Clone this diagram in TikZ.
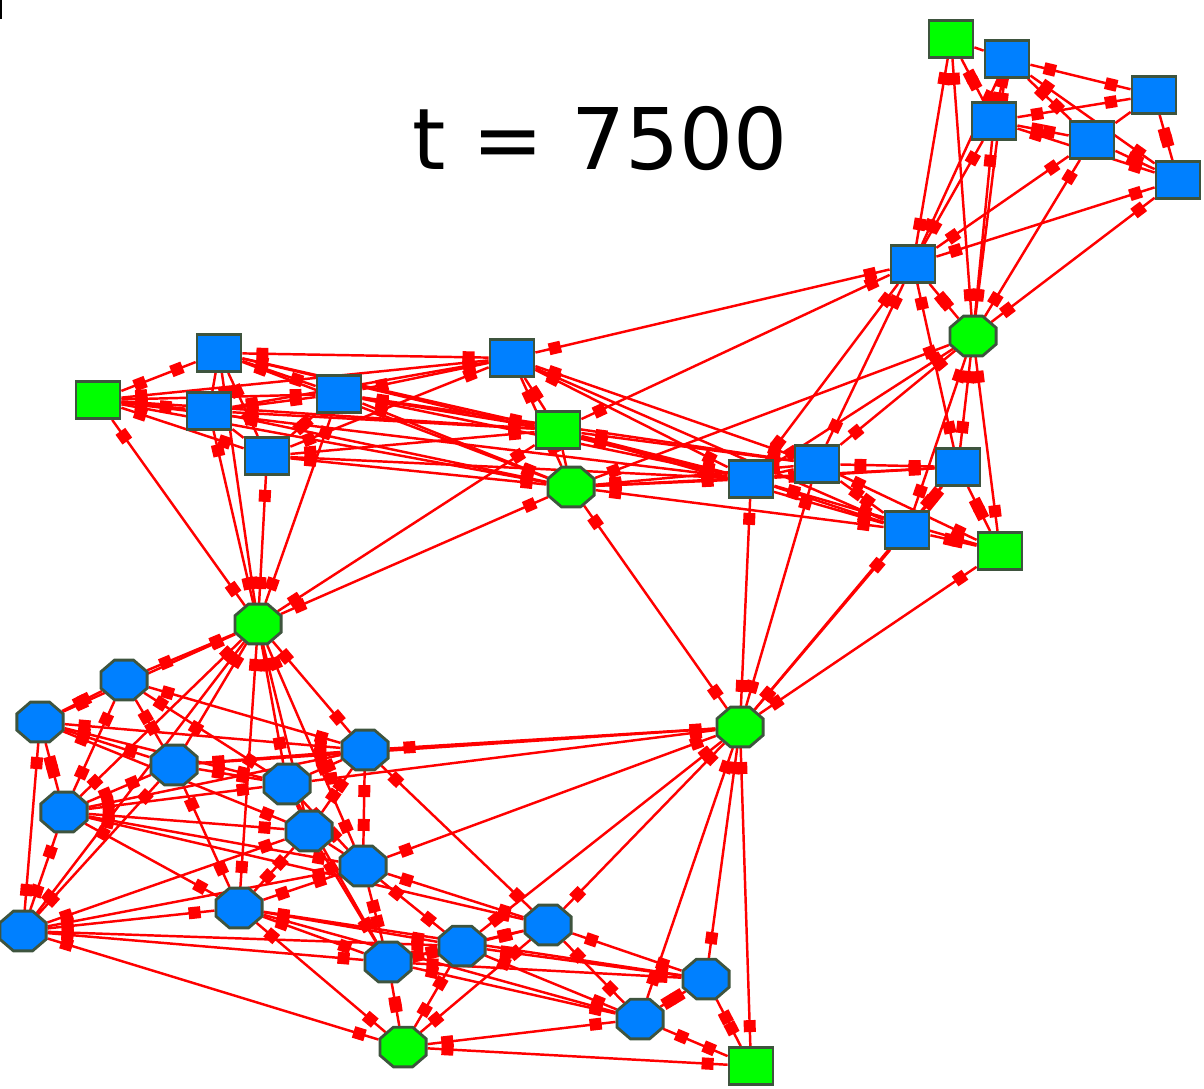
\documentclass[tikz,border=0pt]{standalone}
\usepackage{fontspec}
\setmainfont{DejaVu Sans}
\usetikzlibrary{shapes.geometric,decorations.markings}
\definecolor{nodeblue}{RGB}{0,128,255}
\definecolor{nodegreen}{RGB}{0,255,0}
\definecolor{nodeedge}{RGB}{62,84,62}
\definecolor{linkred}{RGB}{255,0,0}
\pgfdeclarelayer{bg}
\pgfsetlayers{bg,main}
\begin{document}
\begin{tikzpicture}[
        sq/.style={rectangle, draw=nodeedge, line width=0.8pt, minimum width=0.44cm, minimum height=0.37cm, inner sep=0pt},
        oct/.style={regular polygon, regular polygon sides=8, draw=nodeedge, line width=0.8pt, minimum size=0.5cm, inner sep=0pt, yscale=0.86, transform shape},
        blob/.style={fill=linkred},
        link/.style={draw=linkred, line width=0.7pt, postaction=decorate,
            decoration={markings,
                mark=at position 0.2cm with {\fill[blob] (-1.7pt,-1.7pt) rectangle (1.7pt,1.7pt);},
                mark=at position -0.2cm with {\fill[blob] (-1.7pt,-1.7pt) rectangle (1.7pt,1.7pt);}}},
        every edge/.style={link}
    ]
        \useasboundingbox (0,0) rectangle (12.04,-10.88);
        \fill[black] (0,0) rectangle (0.02,-0.19);

        % Title
        \node[anchor=base, font=\fontsize{24.2}{29}\selectfont] (title) at (6.00,-1.69) {t = 7500};

        % Hubs
        \node[oct, fill=nodegreen] (hA) at (9.73,-3.36) {};
        \node[oct, fill=nodegreen] (hB) at (5.71,-4.87) {};
        \node[oct, fill=nodegreen] (hC) at (2.58,-6.24) {};
        \node[oct, fill=nodegreen] (hD) at (7.40,-7.27) {};
        \node[oct, fill=nodegreen] (hE) at (4.03,-10.47) {};
        \node[sq, fill=nodegreen] (gA) at (9.51,-0.39) {};
        \node[sq, fill=nodegreen] (gB) at (0.98,-4.00) {};
        \node[sq, fill=nodegreen] (gC) at (5.58,-4.30) {};
        \node[sq, fill=nodegreen] (gD) at (10.00,-5.51) {};
        \node[sq, fill=nodegreen] (gE) at (7.51,-10.66) {};

        % Square groups
        \node[sq, fill=nodeblue] (t1) at (10.07,-0.59) {};
        \node[sq, fill=nodeblue] (t2) at (11.54,-0.95) {};
        \node[sq, fill=nodeblue] (t3) at (9.94,-1.21) {};
        \node[sq, fill=nodeblue] (t4) at (10.92,-1.40) {};
        \node[sq, fill=nodeblue] (t5) at (11.78,-1.80) {};
        \node[sq, fill=nodeblue] (t6) at (9.13,-2.64) {};
        \node[sq, fill=nodeblue] (m1) at (2.19,-3.53) {};
        \node[sq, fill=nodeblue] (m2) at (5.12,-3.58) {};
        \node[sq, fill=nodeblue] (m3) at (2.09,-4.11) {};
        \node[sq, fill=nodeblue] (m4) at (3.39,-3.94) {};
        \node[sq, fill=nodeblue] (m5) at (2.67,-4.56) {};
        \node[sq, fill=nodeblue] (m6) at (7.51,-4.79) {};
        \node[sq, fill=nodeblue] (m7) at (8.17,-4.64) {};
        \node[sq, fill=nodeblue] (m8) at (9.58,-4.67) {};
        \node[sq, fill=nodeblue] (m9) at (9.07,-5.30) {};

        % Octagon group
        \node[oct, fill=nodeblue] (c1) at (1.24,-6.80) {};
        \node[oct, fill=nodeblue] (c2) at (0.40,-7.22) {};
        \node[oct, fill=nodeblue] (c3) at (1.74,-7.65) {};
        \node[oct, fill=nodeblue] (c4) at (3.65,-7.50) {};
        \node[oct, fill=nodeblue] (c5) at (2.87,-7.84) {};
        \node[oct, fill=nodeblue] (c6) at (0.64,-8.12) {};
        \node[oct, fill=nodeblue] (c7) at (3.09,-8.31) {};
        \node[oct, fill=nodeblue] (c8) at (3.63,-8.66) {};
        \node[oct, fill=nodeblue] (c9) at (0.23,-9.31) {};
        \node[oct, fill=nodeblue] (c10) at (2.39,-9.08) {};
        \node[oct, fill=nodeblue] (c11) at (5.48,-9.25) {};
        \node[oct, fill=nodeblue] (c12) at (4.62,-9.46) {};
        \node[oct, fill=nodeblue] (c13) at (3.88,-9.62) {};
        \node[oct, fill=nodeblue] (c14) at (7.06,-9.79) {};
        \node[oct, fill=nodeblue] (c15) at (6.40,-10.19) {};

        \begin{pgfonlayer}{bg}
        % Top right links
        \path (gA) edge (t1) edge (t3) edge (t6) edge (hA);
        \path (t1) edge (t2) edge (t3) edge (t4) edge (t5) edge (t6) edge (hA);
        \path (t2) edge (t3) edge (t4) edge (t5);
        \path (t3) edge (t4) edge (t5) edge (t6) edge (hA);
        \path (t4) edge (t5) edge (t6) edge (hA);
        \path (t5) edge (t6) edge (hA);
        \path (t6) edge (hA) edge (m2) edge (gC) edge (m6) edge (m7) edge (m8);
        \path (hA) edge (hB) edge (m6) edge (m7) edge (m8) edge (m9) edge (gD);

        % Middle links
        \path (m6) edge (m7) edge (m8) edge (m9) edge (gD) edge (hD) edge (gC) edge (hB);
        \path (m7) edge (m8) edge (m9) edge (gD) edge (hD) edge (hB) edge (gC);
        \path (m8) edge (m9) edge (gD) edge (hD) edge (hB);
        \path (m9) edge (gD) edge (hD) edge (hB) edge (gC);
        \path (gD) edge (hD);
        \path (hB) edge (hD) edge (gC) edge (hC) edge (m2);
        \path (gC) edge (m2) edge (hC);
        \path (gB) edge (m1) edge (m3) edge (m4) edge (m5) edge (m2) edge (gC) edge (hB) edge (hC) edge (m6);
        \path (m1) edge (m2) edge (m3) edge (m4) edge (m5) edge (gC) edge (hB) edge (hC) edge (m6);
        \path (m3) edge (m4) edge (m5) edge (gC) edge (hB) edge (hC) edge (m2);
        \path (m4) edge (m2) edge (m5) edge (gC) edge (hB) edge (hC) edge (m6) edge (m7);
        \path (m5) edge (hB) edge (gC) edge (hC) edge (m6) edge (m2);
        \path (m2) edge (m6) edge (m7) edge (m9);

        % Bottom links
        \path (hC) edge (c1) edge (c2) edge (c3) edge (c4) edge (c5) edge (c6) edge (c7) edge (c8) edge (c10) edge (c9);
        \path (c1) edge (c2) edge (c3) edge (c4) edge (c6) edge (c5);
        \path (c2) edge (c3) edge (c4) edge (c6) edge (c9) edge (c5) edge (c7);
        \path (c3) edge (c4) edge (c5) edge (c6) edge (c10) edge (hD) edge (c9);
        \path (c4) edge (c5) edge (c7) edge (c8) edge (hD) edge (c11) edge (c6);
        \path (c5) edge (c7) edge (c8) edge (c13) edge (c6) edge (hD);
        \path (c6) edge (c7) edge (c9) edge (c10) edge (c8) edge (c11);
        \path (c7) edge (c8) edge (c10) edge (c13) edge (c9);
        \path (c8) edge (c10) edge (c13) edge (c12) edge (c11) edge (c9) edge (hD);
        \path (c9) edge (c10) edge (c12) edge (hE) edge (c13);
        \path (c10) edge (c12) edge (c13) edge (c14) edge (c15) edge (hE);
        \path (c11) edge (c12) edge (c14) edge (c15) edge (hD) edge (hE) edge (c13);
        \path (c12) edge (c13) edge (c14) edge (c15) edge (hE) edge (hD);
        \path (c13) edge (hE) edge (c14) edge (c15);
        \path (c14) edge (c15) edge (gE) edge (hD);
        \path (c15) edge (gE) edge (hE) edge (hD);
        \path (hE) edge (gE);
        \path (hD) edge (gE);
        \end{pgfonlayer}
    \end{tikzpicture}
\end{document}
